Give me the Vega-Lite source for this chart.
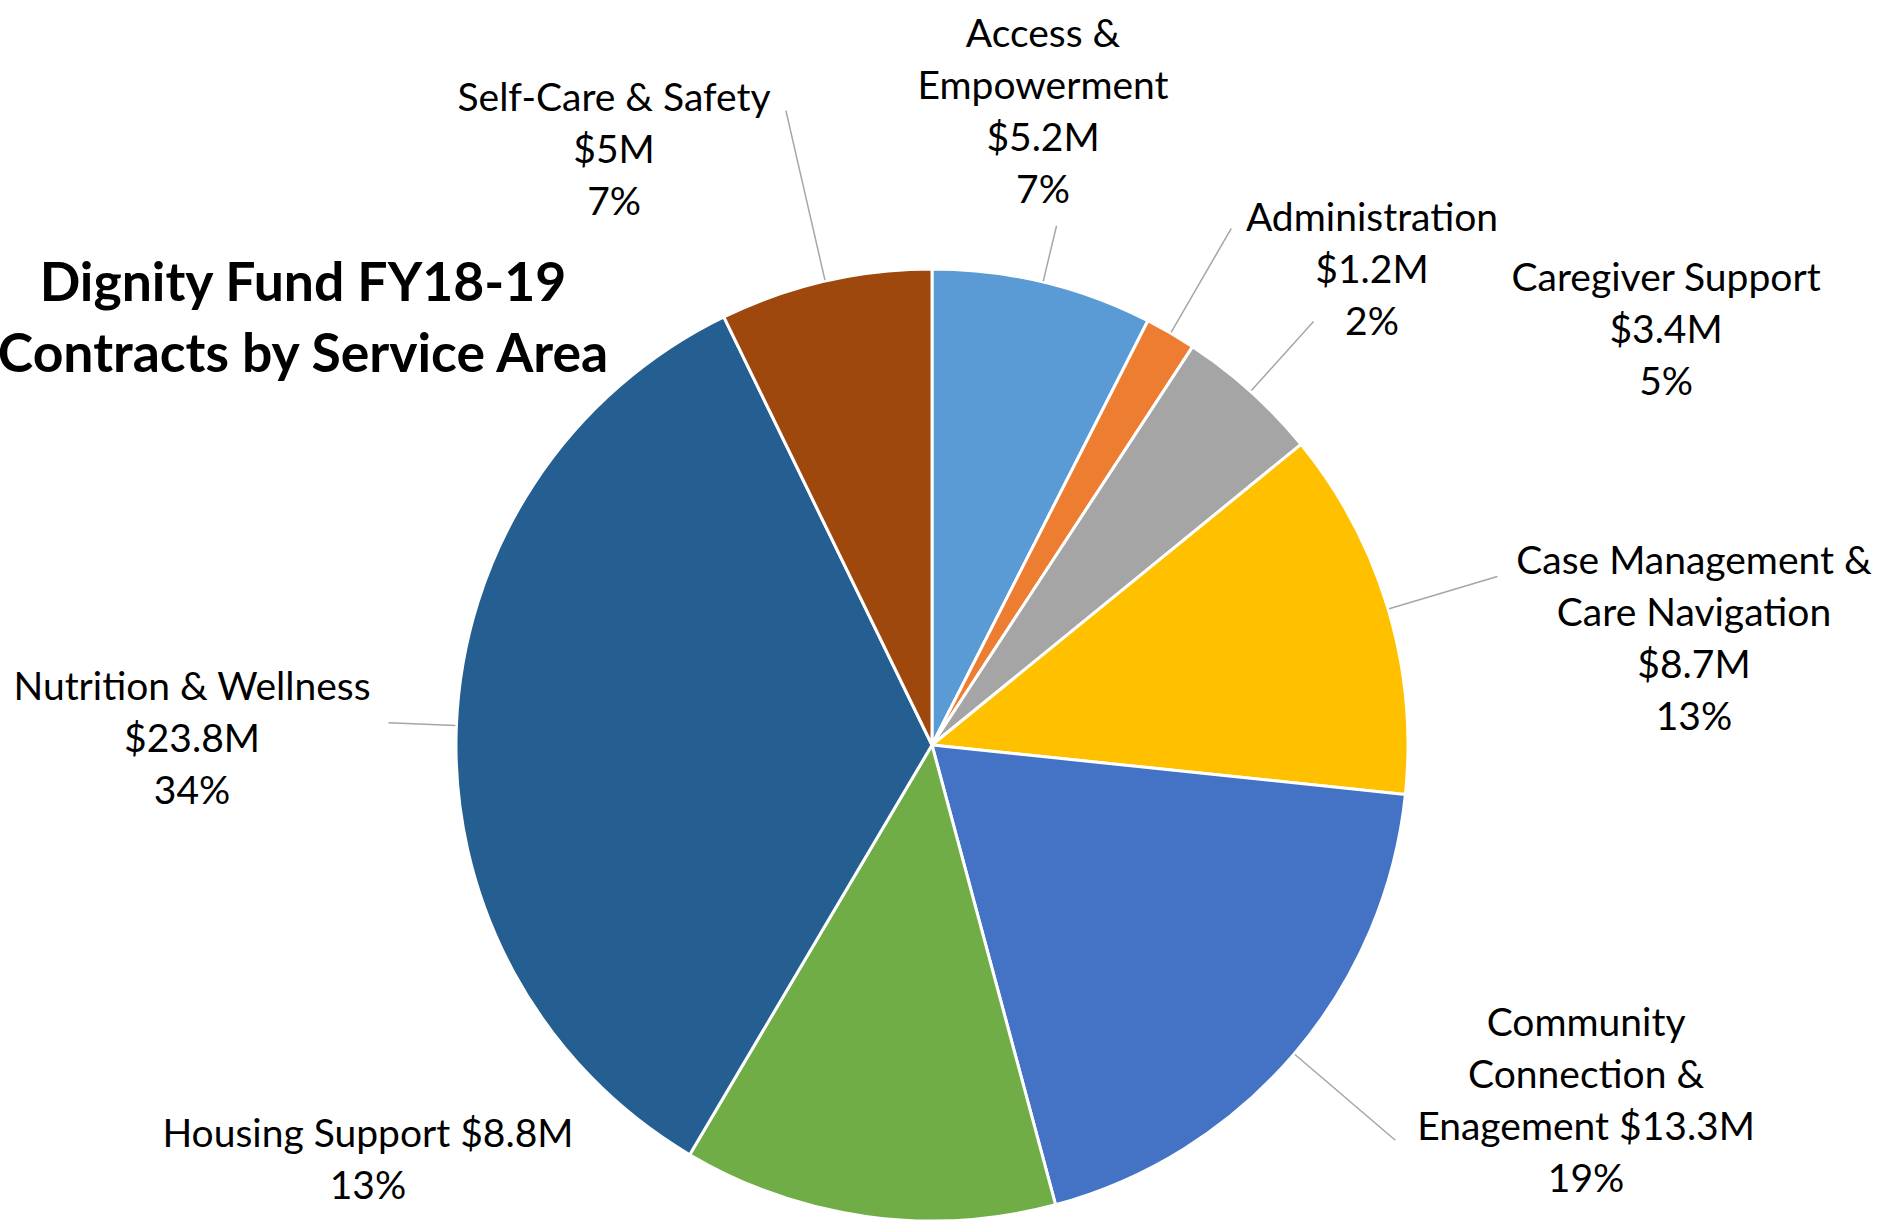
{
  "$schema": "https://vega.github.io/schema/vega-lite/v6.json",
  "width": 1864,
  "height": 958,
  "autosize": {"type": "none"},
  "padding": {"left": 0, "top": 266, "right": 20, "bottom": 0},
  "background": "white",
  "config": {"view": {"stroke": null}, "font": "Lato"},
  "title": {
    "text": ["Dignity Fund FY18-19", "Contracts by Service Area"],
    "anchor": "start",
    "frame": "group",
    "orient": "top",
    "offset": 0,
    "align": "center",
    "baseline": "alphabetic",
    "dx": 303,
    "dy": 410,
    "fontSize": 53.5,
    "fontWeight": "bold",
    "font": "Lato",
    "lineHeight": 71,
    "color": "#000000"
  },
  "data": {
    "values": [
      {"cat": "Access & Empowerment", "value": 5.2, "label": "Access &\nEmpowerment\n$5.2M\n7%"},
      {"cat": "Administration", "value": 1.2, "label": "Administration\n$1.2M\n2%"},
      {"cat": "Caregiver Support", "value": 3.4, "label": "Caregiver Support\n$3.4M\n5%"},
      {"cat": "Case Management & Care Navigation", "value": 8.7, "label": "Case Management &\nCare Navigation\n$8.7M\n13%"},
      {"cat": "Community Connection & Enagement", "value": 13.3, "label": "Community\nConnection &\nEnagement $13.3M\n19%"},
      {"cat": "Housing Support", "value": 8.8, "label": "Housing Support $8.8M\n13%"},
      {"cat": "Nutrition & Wellness", "value": 23.8, "label": "Nutrition & Wellness\n$23.8M\n34%"},
      {"cat": "Self-Care & Safety", "value": 5.0, "label": "Self-Care & Safety\n$5M\n7%"}
    ]
  },
  "layer": [
    {
      "mark": {"type": "arc", "radius": 476, "stroke": "#ffffff", "strokeWidth": 3},
      "encoding": {
        "theta": {"field": "value", "type": "quantitative", "stack": true},
        "color": {
          "field": "cat",
          "type": "nominal",
          "scale": {
            "domain": ["Access & Empowerment", "Administration", "Caregiver Support", "Case Management & Care Navigation", "Community Connection & Enagement", "Housing Support", "Nutrition & Wellness", "Self-Care & Safety"],
            "range": ["#5B9BD5", "#ED7D31", "#A5A5A5", "#FFC000", "#4472C4", "#70AD47", "#255E91", "#9E480E"]
          },
          "legend": null
        }
      }
    },
    {
      "mark": {"type": "arc", "radius": 534, "radius2": 477, "padAngle": 3, "fill": "transparent", "stroke": "#A6A6A6", "strokeWidth": 1.5},
      "encoding": {
        "theta": {"field": "value", "type": "quantitative", "stack": true},
        "detail": {"field": "cat", "type": "nominal"},
        "strokeOpacity": {"condition": {"test": "datum.cat === 'Access & Empowerment'", "value": 1}, "value": 0}
      }
    },
    {
      "mark": {"type": "arc", "radius": 597, "radius2": 477, "padAngle": 3, "fill": "transparent", "stroke": "#A6A6A6", "strokeWidth": 1.5},
      "encoding": {
        "theta": {"field": "value", "type": "quantitative", "stack": true},
        "detail": {"field": "cat", "type": "nominal"},
        "strokeOpacity": {"condition": {"test": "datum.cat === 'Administration'", "value": 1}, "value": 0}
      }
    },
    {
      "mark": {"type": "arc", "radius": 570, "radius2": 477, "padAngle": 3, "fill": "transparent", "stroke": "#A6A6A6", "strokeWidth": 1.5},
      "encoding": {
        "theta": {"field": "value", "type": "quantitative", "stack": true},
        "detail": {"field": "cat", "type": "nominal"},
        "strokeOpacity": {"condition": {"test": "datum.cat === 'Caregiver Support'", "value": 1}, "value": 0}
      }
    },
    {
      "mark": {"type": "arc", "radius": 590, "radius2": 477, "padAngle": 3, "fill": "transparent", "stroke": "#A6A6A6", "strokeWidth": 1.5},
      "encoding": {
        "theta": {"field": "value", "type": "quantitative", "stack": true},
        "detail": {"field": "cat", "type": "nominal"},
        "strokeOpacity": {"condition": {"test": "datum.cat === 'Case Management & Care Navigation'", "value": 1}, "value": 0}
      }
    },
    {
      "mark": {"type": "arc", "radius": 609, "radius2": 477, "padAngle": 3, "fill": "transparent", "stroke": "#A6A6A6", "strokeWidth": 1.5},
      "encoding": {
        "theta": {"field": "value", "type": "quantitative", "stack": true},
        "detail": {"field": "cat", "type": "nominal"},
        "strokeOpacity": {"condition": {"test": "datum.cat === 'Community Connection & Enagement'", "value": 1}, "value": 0}
      }
    },
    {
      "mark": {"type": "arc", "radius": 544, "radius2": 477, "padAngle": 3, "fill": "transparent", "stroke": "#A6A6A6", "strokeWidth": 1.5},
      "encoding": {
        "theta": {"field": "value", "type": "quantitative", "stack": true},
        "detail": {"field": "cat", "type": "nominal"},
        "strokeOpacity": {"condition": {"test": "datum.cat === 'Nutrition & Wellness'", "value": 1}, "value": 0}
      }
    },
    {
      "mark": {"type": "arc", "radius": 651, "radius2": 477, "padAngle": 3, "fill": "transparent", "stroke": "#A6A6A6", "strokeWidth": 1.5},
      "encoding": {
        "theta": {"field": "value", "type": "quantitative", "stack": true},
        "detail": {"field": "cat", "type": "nominal"},
        "strokeOpacity": {"condition": {"test": "datum.cat === 'Self-Care & Safety'", "value": 1}, "value": 0}
      }
    },
    {
      "transform": [
        {"window": [{"op": "sum", "field": "value", "as": "cumEnd"}], "sort": [{"field": "cat", "order": "ascending"}], "frame": [null, 0]},
        {"filter": "datum.cat === 'Access & Empowerment'"}
      ],
      "mark": {"type": "text", "radius": 721.6, "thetaOffset": -0.3163, "dy": 3, "align": "center", "baseline": "middle", "fontSize": 39, "lineHeight": 52, "lineBreak": "\n", "font": "Lato", "color": "#000000"},
      "encoding": {"theta": {"field": "cumEnd", "type": "quantitative", "stack": null}, "text": {"field": "label"}}
    },
    {
      "transform": [
        {"window": [{"op": "sum", "field": "value", "as": "cumEnd"}], "sort": [{"field": "cat", "order": "ascending"}], "frame": [null, 0]},
        {"filter": "datum.cat === 'Administration'"}
      ],
      "mark": {"type": "text", "radius": 688.1, "thetaOffset": 0.1143, "dy": 3, "align": "center", "baseline": "middle", "fontSize": 39, "lineHeight": 52, "lineBreak": "\n", "font": "Lato", "color": "#000000"},
      "encoding": {"theta": {"field": "cumEnd", "type": "quantitative", "stack": null}, "text": {"field": "label"}}
    },
    {
      "transform": [
        {"window": [{"op": "sum", "field": "value", "as": "cumEnd"}], "sort": [{"field": "cat", "order": "ascending"}], "frame": [null, 0]},
        {"filter": "datum.cat === 'Caregiver Support'"}
      ],
      "mark": {"type": "text", "radius": 871.1, "thetaOffset": 0.1150, "dy": 3, "align": "center", "baseline": "middle", "fontSize": 39, "lineHeight": 52, "lineBreak": "\n", "font": "Lato", "color": "#000000"},
      "encoding": {"theta": {"field": "cumEnd", "type": "quantitative", "stack": null}, "text": {"field": "label"}}
    },
    {
      "transform": [
        {"window": [{"op": "sum", "field": "value", "as": "cumEnd"}], "sort": [{"field": "cat", "order": "ascending"}], "frame": [null, 0]},
        {"filter": "datum.cat === 'Case Management & Care Navigation'"}
      ],
      "mark": {"type": "text", "radius": 784.4, "thetaOffset": -0.3437, "dy": 3, "align": "center", "baseline": "middle", "fontSize": 39, "lineHeight": 52, "lineBreak": "\n", "font": "Lato", "color": "#000000"},
      "encoding": {"theta": {"field": "cumEnd", "type": "quantitative", "stack": null}, "text": {"field": "label"}}
    },
    {
      "transform": [
        {"window": [{"op": "sum", "field": "value", "as": "cumEnd"}], "sort": [{"field": "cat", "order": "ascending"}], "frame": [null, 0]},
        {"filter": "datum.cat === 'Community Connection & Enagement'"}
      ],
      "mark": {"type": "text", "radius": 709.9, "thetaOffset": -0.9090, "dy": 3, "align": "center", "baseline": "middle", "fontSize": 39, "lineHeight": 52, "lineBreak": "\n", "font": "Lato", "color": "#000000"},
      "encoding": {"theta": {"field": "cumEnd", "type": "quantitative", "stack": null}, "text": {"field": "label"}}
    },
    {
      "transform": [
        {"window": [{"op": "sum", "field": "value", "as": "cumEnd"}], "sort": [{"field": "cat", "order": "ascending"}], "frame": [null, 0]},
        {"filter": "datum.cat === 'Housing Support'"}
      ],
      "mark": {"type": "text", "radius": 684.0, "thetaOffset": 0.4353, "dy": 3, "align": "center", "baseline": "middle", "fontSize": 39, "lineHeight": 52, "lineBreak": "\n", "font": "Lato", "color": "#000000"},
      "encoding": {"theta": {"field": "cumEnd", "type": "quantitative", "stack": null}, "text": {"field": "label"}}
    },
    {
      "transform": [
        {"window": [{"op": "sum", "field": "value", "as": "cumEnd"}], "sort": [{"field": "cat", "order": "ascending"}], "frame": [null, 0]},
        {"filter": "datum.cat === 'Nutrition & Wellness'"}
      ],
      "mark": {"type": "text", "radius": 742.4, "thetaOffset": -1.0371, "dy": 3, "align": "center", "baseline": "middle", "fontSize": 39, "lineHeight": 52, "lineBreak": "\n", "font": "Lato", "color": "#000000"},
      "encoding": {"theta": {"field": "cumEnd", "type": "quantitative", "stack": null}, "text": {"field": "label"}}
    },
    {
      "transform": [
        {"window": [{"op": "sum", "field": "value", "as": "cumEnd"}], "sort": [{"field": "cat", "order": "ascending"}], "frame": [null, 0]},
        {"filter": "datum.cat === 'Self-Care & Safety'"}
      ],
      "mark": {"type": "text", "radius": 722.7, "thetaOffset": -0.4555, "dy": 3, "align": "center", "baseline": "middle", "fontSize": 39, "lineHeight": 52, "lineBreak": "\n", "font": "Lato", "color": "#000000"},
      "encoding": {"theta": {"field": "cumEnd", "type": "quantitative", "stack": null}, "text": {"field": "label"}}
    }
  ]
}
